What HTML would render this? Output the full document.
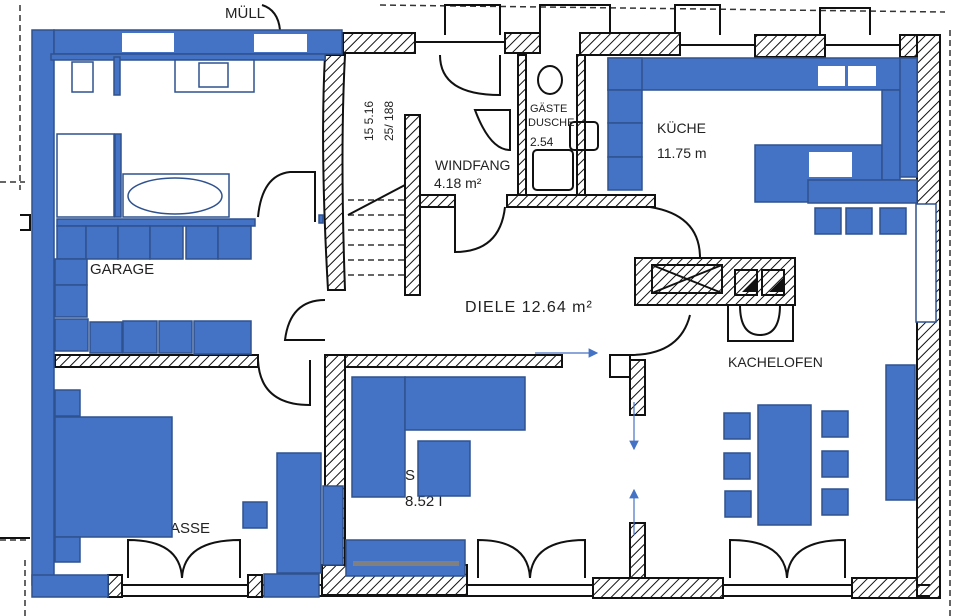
<!DOCTYPE html>
<html><head><meta charset="utf-8"><style>
html,body{margin:0;padding:0;background:#fff;}
svg{display:block}
text{font-family:"Liberation Sans Narrow","Liberation Sans",sans-serif;fill:#222;}
.b{fill:#4472C4;stroke:#2F528F;stroke-width:1.5}
.o{fill:#fff;stroke:#2F528F;stroke-width:1.5}
.h{fill:url(#hat);stroke:#111;stroke-width:2}
.l{fill:none;stroke:#111;stroke-width:2}
.d{fill:none;stroke:#333;stroke-width:1.5;stroke-dasharray:6 4}
</style></head><body>
<svg width="960" height="616" viewBox="0 0 960 616" xmlns="http://www.w3.org/2000/svg">
<defs>
<pattern id="hat" width="7" height="7" patternUnits="userSpaceOnUse" patternTransform="rotate(45)">
<rect width="7" height="7" fill="#fff"/><line x1="0" y1="0" x2="0" y2="7" stroke="#111" stroke-width="2"/>
</pattern>
<marker id="ar" markerWidth="8" markerHeight="8" refX="7" refY="4" orient="auto"><path d="M0,0 L8,4 L0,8z" fill="#4472C4"/></marker>
</defs>
<!-- dashed outer lines -->
<path class="d" d="M20,5 L20,190 M0,182 L25,182 M0,540 L30,540 M380,5 L945,12 M950,30 L950,616 M25,560 L25,616"/>
<!-- top protrusions -->
<path class="l" d="M445,35 L445,5 L500,5 L500,35 M540,35 L540,5 L610,5 L610,35 M675,35 L675,5 L720,5 L720,35 M820,35 L820,8 L870,8 L870,35"/>
<!-- top walls -->
<rect class="h" x="343" y="33" width="72" height="20"/>
<rect class="h" x="505" y="33" width="35" height="20"/>
<rect class="h" x="580" y="33" width="100" height="22"/>
<rect class="h" x="755" y="35" width="70" height="22"/>
<rect class="h" x="900" y="35" width="40" height="22"/>
<line class="l" x1="415" y1="42" x2="505" y2="42"/>
<line class="l" x1="680" y1="45" x2="755" y2="45"/>
<line class="l" x1="825" y1="45" x2="900" y2="45"/>
<!-- right outer wall -->
<rect class="h" x="917" y="35" width="23" height="563"/>
<!-- bottom walls -->
<line class="l" x1="100" y1="585" x2="930" y2="585"/>
<line class="l" x1="100" y1="596" x2="930" y2="596"/>
<rect class="h" x="108" y="575" width="14" height="22"/>
<rect class="h" x="248" y="575" width="14" height="22"/>
<rect class="h" x="322" y="565" width="145" height="30"/>
<rect class="h" x="593" y="578" width="130" height="20"/>
<rect class="h" x="852" y="578" width="65" height="20"/>
<path class="l" d="M128,578 L128,540 Q180,540 182,578 Q184,540 240,540 L240,578"/>
<path class="l" d="M478,578 L478,540 Q528,540 530,578 Q532,540 585,540 L585,578"/>
<path class="l" d="M730,578 L730,540 Q785,540 787,578 Q789,540 845,540 L845,578"/>
<!-- stair -->
<path class="h" d="M325,55 L345,55 Q340,150 345,290 L328,290 Q320,150 325,55z"/>
<rect class="h" x="405" y="115" width="15" height="180"/>
<path class="d" d="M348,200 L405,200 M348,215 L405,215 M348,230 L405,230 M348,245 L405,245 M348,260 L405,260 M348,275 L405,275"/>
<line class="l" x1="348" y1="215" x2="405" y2="185"/>
<text x="352" y="150" font-size="12" transform="rotate(-90 358 135)">15 5.16</text>
<text x="372" y="150" font-size="12" transform="rotate(-90 378 135)">25/ 188</text>
<!-- windfang / dusche walls -->
<rect class="h" x="420" y="195" width="35" height="12"/>
<rect class="h" x="507" y="195" width="148" height="12"/>
<rect class="h" x="518" y="55" width="8" height="140"/>
<rect class="h" x="577" y="55" width="8" height="140"/>
<path class="l" d="M440,55 Q440,95 500,95 L500,55 M475,110 Q490,150 510,150 L510,110 Z"/>
<ellipse class="l" cx="550" cy="80" rx="12" ry="14"/>
<rect class="l" x="533" y="150" width="40" height="40" rx="4"/>
<rect class="l" x="570" y="122" width="28" height="28" rx="4"/>
<text x="530" y="112" font-size="11">GÄSTE</text>
<text x="528" y="126" font-size="11">DUSCHE</text>
<text x="530" y="146" font-size="12">2.54</text>
<text x="435" y="170" font-size="14">WINDFANG</text>
<text x="434" y="188" font-size="14">4.18 m²</text>
<text x="225" y="18" font-size="15">MÜLL</text>
<path class="l" d="M262,5 Q278,10 280,30"/>
<!-- diele door arc -->
<path class="l" d="M455,207 L455,252 Q500,252 505,207"/>
<path class="l" d="M650,207 Q700,215 700,258"/>
<!-- kachelofen -->
<rect class="h" x="635" y="258" width="160" height="47"/>
<rect class="l" x="652" y="265" width="70" height="28" fill="#fff"/>
<path class="l" d="M652,265 L722,293 M722,265 L652,293"/>
<rect class="l" x="735" y="270" width="22" height="25" fill="#fff"/>
<rect class="l" x="762" y="270" width="22" height="25" fill="#fff"/>
<path d="M742,292 L756,278 L756,292z M769,292 L783,278 L783,292z" fill="#111"/>
<rect class="l" x="728" y="305" width="65" height="36"/>
<path class="l" d="M740,305 Q740,335 760,335 Q780,335 780,305"/>
<text x="728" y="367" font-size="14">KACHELOFEN</text>
<text x="465" y="312" font-size="16" letter-spacing="1">DIELE 12.64 m²</text>
<!-- garage door arcs -->
<path class="l" d="M258,217 Q262,175 290,172 L315,172 L315,222"/>
<path class="l" d="M258,360 Q260,405 310,405 L310,360"/>
<path class="l" d="M325,300 Q290,300 285,340 L325,340"/>
<!-- middle walls -->
<rect class="h" x="55" y="355" width="203" height="12"/>
<rect class="h" x="325" y="355" width="20" height="210"/>
<rect class="h" x="345" y="355" width="217" height="12"/>
<rect class="l" x="610" y="355" width="20" height="22" fill="#fff"/>
<rect class="h" x="630" y="360" width="15" height="55"/>
<rect class="h" x="630" y="523" width="15" height="55"/>
<path class="l" d="M630,355 Q680,355 690,315"/>
<text x="90" y="274" font-size="15">GARAGE</text>
<text x="170" y="533" font-size="15">ASSE</text>
<text x="405" y="480" font-size="15">S</text>
<text x="405" y="506" font-size="15">8.52 I</text>
<text x="657" y="133" font-size="14">KÜCHE</text>
<text x="657" y="158" font-size="14">11.75 m</text>
<path class="l" d="M20,215 L30,215 L30,230 L20,230 M0,538 L30,538"/>
<!-- BLUE LEFT -->
<rect class="b" x="32" y="30" width="22" height="555"/>
<rect class="b" x="54" y="30" width="288" height="24"/>
<rect fill="#fff" x="122" y="33" width="52" height="19"/>
<rect fill="#fff" x="254" y="34" width="53" height="18"/>
<rect class="b" x="51" y="54" width="274" height="6"/>
<rect class="o" x="72" y="62" width="21" height="30"/>
<rect class="b" x="114" y="57" width="6" height="38"/>
<rect class="o" x="175" y="60" width="79" height="32"/>
<rect class="o" x="199" y="63" width="29" height="24"/>
<rect class="o" x="57" y="134" width="57" height="83"/>
<rect class="b" x="115" y="134" width="6" height="83"/>
<rect class="o" x="123" y="174" width="106" height="43"/>
<ellipse class="o" cx="175" cy="196" rx="47" ry="18"/>
<rect class="b" x="57" y="219" width="198" height="7"/>
<rect class="b" x="57" y="226" width="29" height="33"/>
<rect class="b" x="86" y="226" width="32" height="33"/>
<rect class="b" x="118" y="226" width="32" height="33"/>
<rect class="b" x="150" y="226" width="33" height="33"/>
<rect class="b" x="186" y="226" width="32" height="33"/>
<rect class="b" x="218" y="226" width="33" height="33"/>
<rect class="b" x="55" y="259" width="32" height="26"/>
<rect class="b" x="55" y="285" width="32" height="32"/>
<rect class="b" x="55" y="319" width="33" height="32"/>
<rect class="b" x="90" y="322" width="32" height="31"/>
<rect class="b" x="123" y="321" width="34" height="32"/>
<rect class="b" x="159" y="321" width="33" height="32"/>
<rect class="b" x="194" y="321" width="57" height="33"/>
<rect class="b" x="55" y="390" width="25" height="26"/>
<rect class="b" x="55" y="417" width="117" height="120"/>
<rect class="b" x="55" y="537" width="25" height="25"/>
<rect class="b" x="32" y="575" width="76" height="22"/>
<rect class="b" x="243" y="502" width="24" height="26"/>
<rect class="b" x="277" y="453" width="44" height="120"/>
<rect class="b" x="264" y="574" width="55" height="23"/>
<rect class="b" x="323" y="486" width="20" height="79"/>
<rect class="b" x="352" y="377" width="53" height="120"/>
<rect class="b" x="405" y="377" width="120" height="53"/>
<rect class="b" x="418" y="441" width="52" height="55"/>
<rect class="b" x="346" y="540" width="119" height="36"/>
<rect x="353" y="561" width="106" height="5" fill="#808080"/>
<rect class="b" x="319" y="215" width="4" height="8"/>
<!-- BLUE RIGHT -->
<rect class="b" x="608" y="58" width="309" height="32"/>
<rect fill="#fff" x="818" y="66" width="27" height="20"/>
<rect fill="#fff" x="848" y="66" width="28" height="20"/>
<rect class="b" x="608" y="58" width="34" height="32"/>
<rect class="b" x="608" y="90" width="34" height="33"/>
<rect class="b" x="608" y="123" width="34" height="34"/>
<rect class="b" x="608" y="157" width="34" height="33"/>
<rect class="b" x="755" y="145" width="127" height="57"/>
<rect fill="#fff" x="809" y="152" width="43" height="25"/>
<rect class="b" x="882" y="90" width="18" height="90"/>
<rect class="b" x="900" y="58" width="17" height="119"/>
<rect class="b" x="808" y="180" width="109" height="23"/>
<rect class="b" x="815" y="208" width="26" height="26"/>
<rect class="b" x="846" y="208" width="26" height="26"/>
<rect class="b" x="880" y="208" width="26" height="26"/>
<rect class="o" x="916" y="204" width="20" height="118"/>
<rect class="b" x="758" y="405" width="53" height="120"/>
<rect class="b" x="724" y="413" width="26" height="26"/>
<rect class="b" x="724" y="453" width="26" height="26"/>
<rect class="b" x="725" y="491" width="26" height="26"/>
<rect class="b" x="822" y="411" width="26" height="26"/>
<rect class="b" x="822" y="451" width="26" height="26"/>
<rect class="b" x="822" y="489" width="26" height="26"/>
<rect class="b" x="886" y="365" width="29" height="135"/>
<!-- arrows -->
<line x1="535" y1="353" x2="597" y2="353" stroke="#4472C4" stroke-width="1.2" marker-end="url(#ar)"/>
<line x1="634" y1="402" x2="634" y2="449" stroke="#4472C4" stroke-width="1.2" marker-end="url(#ar)"/>
<line x1="634" y1="535" x2="634" y2="490" stroke="#4472C4" stroke-width="1.2" marker-end="url(#ar)"/>
</svg>
</body></html>
